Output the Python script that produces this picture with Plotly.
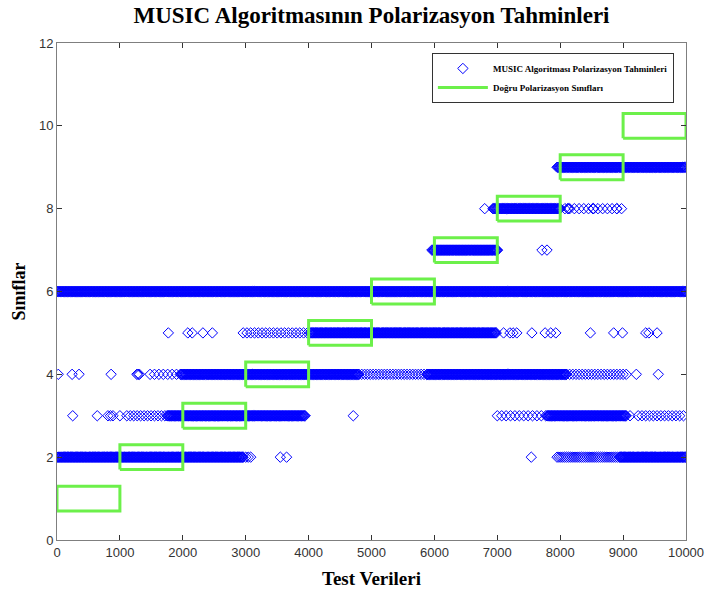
import numpy as np
import plotly.graph_objects as go

# ---------------- data ----------------
classes = [1, 2, 3, 4, 5, 6, 7, 8, 9, 10]
class_start = [0, 1000, 2000, 3000, 4000, 5000, 6000, 7000, 8000, 9000]
class_end = [1000, 2000, 3000, 4000, 5000, 6000, 7000, 8000, 9000, 10000]
class_halfheight = 0.3

# predicted class, run start, run end, spacing between samples in that run
dense_runs = [
    (2, 0, 2960, 12), (2, 8950, 10000, 12),
    (3, 1750, 3950, 12), (3, 7790, 9060, 12),
    (4, 1960, 4800, 12), (4, 5880, 8100, 12),
    (5, 4020, 6990, 12),
    (6, 0, 10000, 12),
    (7, 5960, 7010, 12),
    (8, 6930, 8000, 12),
    (9, 7950, 10000, 12),
]
loose_runs = [
    (2, 2960, 3110, 40), (2, 7950, 8950, 30),
    (3, 1110, 1750, 55), (3, 7000, 7790, 70), (3, 9240, 10000, 60),
    (4, 1480, 1960, 70), (4, 4800, 5880, 45), (4, 8100, 9060, 50),
    (5, 2960, 3980, 60),
    (8, 8000, 9030, 75),
]
single_x = [3550, 3650, 7540,
            250, 640, 810, 850, 890, 1000, 4710, 9110,
            20, 240, 350, 860, 1270, 1290, 1310, 9210, 9560,
            1770, 2080, 2150, 2320, 2470, 7100, 7200, 7250, 7310, 7550,
            7760, 7850, 7930, 8480, 8850, 8990, 9360, 9410, 9540,
            7710, 7790,
            6800, 8120, 8130, 8520, 8530, 8900]
single_y = [2, 2, 2,
            3, 3, 3, 3, 3, 3, 3, 3,
            4, 4, 4, 4, 4, 4, 4, 4, 4,
            5, 5, 5, 5, 5, 5, 5, 5, 5, 5,
            5, 5, 5, 5, 5, 5, 5, 5, 5,
            7, 7,
            8, 8, 8, 8, 8, 8]

x_ticks = [0, 1000, 2000, 3000, 4000, 5000, 6000, 7000, 8000, 9000, 10000]
x_tick_labels = ["0", "1000", "2000", "3000", "4000", "5000", "6000",
                 "7000", "8000", "9000", "10000"]
y_ticks = [0, 2, 4, 6, 8, 10, 12]
y_tick_labels = ["0", "2", "4", "6", "8", "10", "12"]

# ---------------- build ----------------
px_, py_ = [], []
for runs in (dense_runs, loose_runs):
    for c, a, b, s in runs:
        xs = np.arange(a, b + 1, s)
        px_.extend(xs.tolist())
        py_.extend([c] * len(xs))
px_.extend(single_x)
py_.extend(single_y)

rx, ry = [], []
for c, a, b in zip(classes, class_start, class_end):
    lo, hi = c - class_halfheight, c + class_halfheight
    rx += [a, b, b, a, a, None]
    ry += [lo, lo, hi, hi, lo, None]

serif = "Liberation Serif, Times New Roman, serif"
sans = "Liberation Sans, Arial, sans-serif"

fig = go.Figure()
fig.add_trace(go.Scatter(
    x=px_, y=py_, mode="markers",
    name="MUSIC Algoritması Polarizasyon Tahminleri",
    marker=dict(symbol="diamond-open", size=8, color="#0000FF",
                line=dict(width=1, color="#0000FF")),
))
fig.add_trace(go.Scatter(
    x=rx, y=ry, mode="lines",
    name="Doğru Polarizasyon Sınıfları",
    line=dict(color="#6CF04A", width=3),
))

axis_common = dict(
    showgrid=False, zeroline=False, showline=True, linecolor="#7f7f7f",
    linewidth=1, mirror="ticks", ticks="inside", ticklen=5,
    tickcolor="#333333", tickfont=dict(family=sans, size=13, color="#333333"),
    automargin=False,
)
fig.update_xaxes(range=[0, 10000], tickvals=x_ticks, ticktext=x_tick_labels,
                 title=dict(text="Test Verileri", standoff=13,
                            font=dict(family=serif, size=19, color="black", weight="bold")),
                 **axis_common)
fig.update_yaxes(range=[0, 12], tickvals=y_ticks, ticktext=y_tick_labels,
                 title=dict(text="Sınıflar", standoff=8,
                            font=dict(family=serif, size=18, color="black", weight="bold")),
                 **axis_common)

fig.update_layout(
    width=707, height=597,
    margin=dict(l=57, r=21, t=43, b=57, autoexpand=False),
    plot_bgcolor="white", paper_bgcolor="white",
    title=dict(text="MUSIC Algoritmasının Polarizasyon Tahminleri",
               x=0.5, xref="paper", xanchor="center",
               y=0.975, yref="container", yanchor="middle",
               font=dict(family=serif, size=23, color="black", weight="bold")),
    legend=dict(x=0.596, y=0.98, xanchor="left", yanchor="top",
                bgcolor="white", bordercolor="#333333", borderwidth=1,
                font=dict(family=serif, size=9, color="black", weight="bold"),
                itemwidth=50),
    showlegend=True,
)

fig.write_html("out.html", config={"displayModeBar": False},
               post_script="document.body.style.margin='0';document.body.style.overflow='hidden';")
